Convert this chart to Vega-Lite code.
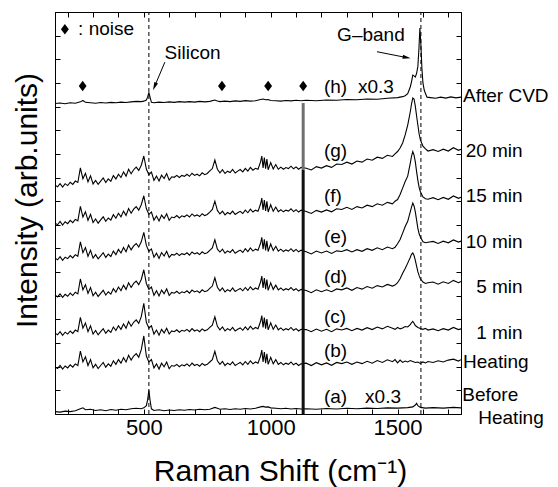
{
"$schema": "https://vega.github.io/schema/vega-lite/v6.json",
"width": 406, "height": 402,
"autosize": "none",
"padding": {"left": 55, "top": 12, "right": 97, "bottom": 73},
"config": {"font": "Liberation Sans", "view": {"stroke": "black", "strokeWidth": 1},
 "axis": {"domainColor": "black", "tickColor": "black", "labelColor": "black", "titleColor": "black", "grid": false, "titleFontWeight": "normal", "labelFont": "Liberation Sans", "titleFont": "Liberation Sans"}},
"datasets": {
"spectra": [
{"t":"g","x":150,"y":9.68},{"t":"g","x":160,"y":9.61},{"t":"g","x":170,"y":9.74},{"t":"g","x":180,"y":9.60},{"t":"g","x":190,"y":9.74},{"t":"g","x":200,"y":9.66},{"t":"g","x":210,"y":9.80},{"t":"g","x":220,"y":9.71},{"t":"g","x":230,"y":9.85},{"t":"g","x":240,"y":9.79},{"t":"g","x":250,"y":10.41},{"t":"g","x":260,"y":9.95},{"t":"g","x":270,"y":10.18},{"t":"g","x":280,"y":9.82},{"t":"g","x":290,"y":10.07},{"t":"g","x":300,"y":9.73},{"t":"g","x":310,"y":9.88},{"t":"g","x":320,"y":9.71},{"t":"g","x":330,"y":9.85},{"t":"g","x":340,"y":9.98},{"t":"g","x":350,"y":9.79},{"t":"g","x":360,"y":9.94},{"t":"g","x":370,"y":9.84},{"t":"g","x":380,"y":10.08},{"t":"g","x":390,"y":9.94},{"t":"g","x":400,"y":10.14},{"t":"g","x":410,"y":10.00},{"t":"g","x":420,"y":10.24},{"t":"g","x":430,"y":10.06},{"t":"g","x":440,"y":10.35},{"t":"g","x":450,"y":10.16},{"t":"g","x":460,"y":10.33},{"t":"g","x":470,"y":10.44},{"t":"g","x":480,"y":10.30},{"t":"g","x":490,"y":10.52},{"t":"g","x":500,"y":10.91},{"t":"g","x":510,"y":10.36},{"t":"g","x":520,"y":10.12},{"t":"g","x":530,"y":10.23},{"t":"g","x":540,"y":9.88},{"t":"g","x":550,"y":10.06},{"t":"g","x":560,"y":9.85},{"t":"g","x":570,"y":10.10},{"t":"g","x":580,"y":9.96},{"t":"g","x":590,"y":10.17},{"t":"g","x":600,"y":9.89},{"t":"g","x":610,"y":10.03},{"t":"g","x":620,"y":10.01},{"t":"g","x":630,"y":10.09},{"t":"g","x":640,"y":10.00},{"t":"g","x":650,"y":10.09},{"t":"g","x":660,"y":10.05},{"t":"g","x":670,"y":10.14},{"t":"g","x":680,"y":10.05},{"t":"g","x":690,"y":10.18},{"t":"g","x":700,"y":10.09},{"t":"g","x":710,"y":10.14},{"t":"g","x":720,"y":10.07},{"t":"g","x":730,"y":10.20},{"t":"g","x":740,"y":10.12},{"t":"g","x":750,"y":10.17},{"t":"g","x":760,"y":10.28},{"t":"g","x":770,"y":10.38},{"t":"g","x":780,"y":10.74},{"t":"g","x":790,"y":10.35},{"t":"g","x":800,"y":10.20},{"t":"g","x":810,"y":10.33},{"t":"g","x":820,"y":10.17},{"t":"g","x":830,"y":10.27},{"t":"g","x":840,"y":10.21},{"t":"g","x":850,"y":10.34},{"t":"g","x":860,"y":10.19},{"t":"g","x":870,"y":10.27},{"t":"g","x":880,"y":10.34},{"t":"g","x":890,"y":10.24},{"t":"g","x":900,"y":10.39},{"t":"g","x":910,"y":10.27},{"t":"g","x":920,"y":10.43},{"t":"g","x":930,"y":10.31},{"t":"g","x":940,"y":10.39},{"t":"g","x":950,"y":10.35},{"t":"g","x":960,"y":10.66},{"t":"g","x":965,"y":10.91},{"t":"g","x":970,"y":10.41},{"t":"g","x":975,"y":10.84},{"t":"g","x":980,"y":10.37},{"t":"g","x":985,"y":10.78},{"t":"g","x":990,"y":10.33},{"t":"g","x":1000,"y":10.63},{"t":"g","x":1010,"y":10.36},{"t":"g","x":1020,"y":10.55},{"t":"g","x":1030,"y":10.35},{"t":"g","x":1040,"y":10.44},{"t":"g","x":1050,"y":10.35},{"t":"g","x":1060,"y":10.42},{"t":"g","x":1070,"y":10.38},{"t":"g","x":1080,"y":10.48},{"t":"g","x":1090,"y":10.37},{"t":"g","x":1100,"y":10.45},{"t":"g","x":1110,"y":10.35},{"t":"g","x":1120,"y":10.43},{"t":"g","x":1140,"y":10.39},{"t":"g","x":1160,"y":10.32},{"t":"g","x":1180,"y":10.46},{"t":"g","x":1200,"y":10.40},{"t":"g","x":1220,"y":10.50},{"t":"g","x":1240,"y":10.43},{"t":"g","x":1260,"y":10.57},{"t":"g","x":1280,"y":10.55},{"t":"g","x":1300,"y":10.65},{"t":"g","x":1320,"y":10.57},{"t":"g","x":1340,"y":10.70},{"t":"g","x":1360,"y":10.65},{"t":"g","x":1380,"y":10.78},{"t":"g","x":1400,"y":10.73},{"t":"g","x":1420,"y":10.86},{"t":"g","x":1440,"y":10.81},{"t":"g","x":1460,"y":10.94},{"t":"g","x":1480,"y":10.89},{"t":"g","x":1490,"y":11.00},{"t":"g","x":1500,"y":11.10},{"t":"g","x":1510,"y":11.25},{"t":"g","x":1520,"y":11.46},{"t":"g","x":1530,"y":11.80},{"t":"g","x":1540,"y":12.22},{"t":"g","x":1550,"y":12.77},{"t":"g","x":1555,"y":13.11},{"t":"g","x":1560,"y":13.36},{"t":"g","x":1565,"y":13.32},{"t":"g","x":1570,"y":13.02},{"t":"g","x":1575,"y":12.60},{"t":"g","x":1580,"y":12.22},{"t":"g","x":1585,"y":11.84},{"t":"g","x":1590,"y":11.59},{"t":"g","x":1600,"y":11.33},{"t":"g","x":1610,"y":11.21},{"t":"g","x":1620,"y":11.12},{"t":"g","x":1640,"y":11.18},{"t":"g","x":1660,"y":11.10},{"t":"g","x":1680,"y":11.20},{"t":"g","x":1700,"y":11.12},{"t":"g","x":1720,"y":11.26},{"t":"g","x":1740,"y":11.15},{"t":"g","x":1750,"y":11.20},
{"t":"f","x":150,"y":8.08},{"t":"f","x":160,"y":8.00},{"t":"f","x":170,"y":8.14},{"t":"f","x":180,"y":7.99},{"t":"f","x":190,"y":8.13},{"t":"f","x":200,"y":8.05},{"t":"f","x":210,"y":8.19},{"t":"f","x":220,"y":8.09},{"t":"f","x":230,"y":8.23},{"t":"f","x":240,"y":8.17},{"t":"f","x":250,"y":8.78},{"t":"f","x":260,"y":8.33},{"t":"f","x":270,"y":8.55},{"t":"f","x":280,"y":8.19},{"t":"f","x":290,"y":8.44},{"t":"f","x":300,"y":8.10},{"t":"f","x":310,"y":8.25},{"t":"f","x":320,"y":8.07},{"t":"f","x":330,"y":8.21},{"t":"f","x":340,"y":8.34},{"t":"f","x":350,"y":8.15},{"t":"f","x":360,"y":8.29},{"t":"f","x":370,"y":8.20},{"t":"f","x":380,"y":8.43},{"t":"f","x":390,"y":8.28},{"t":"f","x":400,"y":8.49},{"t":"f","x":410,"y":8.34},{"t":"f","x":420,"y":8.58},{"t":"f","x":430,"y":8.40},{"t":"f","x":440,"y":8.69},{"t":"f","x":450,"y":8.49},{"t":"f","x":460,"y":8.66},{"t":"f","x":470,"y":8.77},{"t":"f","x":480,"y":8.62},{"t":"f","x":490,"y":8.85},{"t":"f","x":500,"y":9.23},{"t":"f","x":510,"y":8.69},{"t":"f","x":520,"y":8.44},{"t":"f","x":530,"y":8.54},{"t":"f","x":540,"y":8.20},{"t":"f","x":550,"y":8.37},{"t":"f","x":560,"y":8.16},{"t":"f","x":570,"y":8.41},{"t":"f","x":580,"y":8.27},{"t":"f","x":590,"y":8.47},{"t":"f","x":600,"y":8.19},{"t":"f","x":610,"y":8.33},{"t":"f","x":620,"y":8.30},{"t":"f","x":630,"y":8.39},{"t":"f","x":640,"y":8.29},{"t":"f","x":650,"y":8.38},{"t":"f","x":660,"y":8.34},{"t":"f","x":670,"y":8.42},{"t":"f","x":680,"y":8.33},{"t":"f","x":690,"y":8.46},{"t":"f","x":700,"y":8.37},{"t":"f","x":710,"y":8.42},{"t":"f","x":720,"y":8.35},{"t":"f","x":730,"y":8.47},{"t":"f","x":740,"y":8.39},{"t":"f","x":750,"y":8.44},{"t":"f","x":760,"y":8.54},{"t":"f","x":770,"y":8.65},{"t":"f","x":780,"y":9.00},{"t":"f","x":790,"y":8.61},{"t":"f","x":800,"y":8.46},{"t":"f","x":810,"y":8.58},{"t":"f","x":820,"y":8.42},{"t":"f","x":830,"y":8.52},{"t":"f","x":840,"y":8.46},{"t":"f","x":850,"y":8.58},{"t":"f","x":860,"y":8.44},{"t":"f","x":870,"y":8.51},{"t":"f","x":880,"y":8.57},{"t":"f","x":890,"y":8.48},{"t":"f","x":900,"y":8.62},{"t":"f","x":910,"y":8.51},{"t":"f","x":920,"y":8.66},{"t":"f","x":930,"y":8.54},{"t":"f","x":940,"y":8.62},{"t":"f","x":950,"y":8.57},{"t":"f","x":960,"y":8.88},{"t":"f","x":965,"y":9.13},{"t":"f","x":970,"y":8.63},{"t":"f","x":975,"y":9.05},{"t":"f","x":980,"y":8.59},{"t":"f","x":985,"y":8.99},{"t":"f","x":990,"y":8.54},{"t":"f","x":1000,"y":8.85},{"t":"f","x":1010,"y":8.57},{"t":"f","x":1020,"y":8.75},{"t":"f","x":1030,"y":8.56},{"t":"f","x":1040,"y":8.64},{"t":"f","x":1050,"y":8.55},{"t":"f","x":1060,"y":8.62},{"t":"f","x":1070,"y":8.58},{"t":"f","x":1080,"y":8.68},{"t":"f","x":1090,"y":8.56},{"t":"f","x":1100,"y":8.64},{"t":"f","x":1110,"y":8.54},{"t":"f","x":1120,"y":8.62},{"t":"f","x":1140,"y":8.56},{"t":"f","x":1160,"y":8.48},{"t":"f","x":1180,"y":8.61},{"t":"f","x":1200,"y":8.54},{"t":"f","x":1220,"y":8.63},{"t":"f","x":1240,"y":8.55},{"t":"f","x":1260,"y":8.68},{"t":"f","x":1280,"y":8.65},{"t":"f","x":1300,"y":8.74},{"t":"f","x":1320,"y":8.65},{"t":"f","x":1340,"y":8.77},{"t":"f","x":1360,"y":8.71},{"t":"f","x":1380,"y":8.83},{"t":"f","x":1400,"y":8.77},{"t":"f","x":1420,"y":8.89},{"t":"f","x":1440,"y":8.83},{"t":"f","x":1460,"y":8.95},{"t":"f","x":1480,"y":8.89},{"t":"f","x":1490,"y":9.00},{"t":"f","x":1500,"y":9.07},{"t":"f","x":1510,"y":9.28},{"t":"f","x":1520,"y":9.55},{"t":"f","x":1530,"y":9.83},{"t":"f","x":1540,"y":10.06},{"t":"f","x":1550,"y":10.60},{"t":"f","x":1555,"y":10.90},{"t":"f","x":1560,"y":11.10},{"t":"f","x":1565,"y":10.95},{"t":"f","x":1570,"y":10.66},{"t":"f","x":1575,"y":10.25},{"t":"f","x":1580,"y":9.88},{"t":"f","x":1585,"y":9.58},{"t":"f","x":1590,"y":9.40},{"t":"f","x":1600,"y":9.18},{"t":"f","x":1610,"y":9.10},{"t":"f","x":1620,"y":9.08},{"t":"f","x":1640,"y":9.15},{"t":"f","x":1660,"y":9.06},{"t":"f","x":1680,"y":9.16},{"t":"f","x":1700,"y":9.08},{"t":"f","x":1720,"y":9.22},{"t":"f","x":1740,"y":9.12},{"t":"f","x":1750,"y":9.17},
{"t":"e","x":150,"y":6.60},{"t":"e","x":160,"y":6.52},{"t":"e","x":170,"y":6.65},{"t":"e","x":180,"y":6.50},{"t":"e","x":190,"y":6.63},{"t":"e","x":200,"y":6.57},{"t":"e","x":210,"y":6.70},{"t":"e","x":220,"y":6.60},{"t":"e","x":230,"y":6.74},{"t":"e","x":240,"y":6.67},{"t":"e","x":250,"y":7.28},{"t":"e","x":260,"y":6.82},{"t":"e","x":270,"y":7.04},{"t":"e","x":280,"y":6.67},{"t":"e","x":290,"y":6.92},{"t":"e","x":300,"y":6.59},{"t":"e","x":310,"y":6.74},{"t":"e","x":320,"y":6.56},{"t":"e","x":330,"y":6.69},{"t":"e","x":340,"y":6.82},{"t":"e","x":350,"y":6.62},{"t":"e","x":360,"y":6.76},{"t":"e","x":370,"y":6.66},{"t":"e","x":380,"y":6.89},{"t":"e","x":390,"y":6.74},{"t":"e","x":400,"y":6.96},{"t":"e","x":410,"y":6.81},{"t":"e","x":420,"y":7.04},{"t":"e","x":430,"y":6.86},{"t":"e","x":440,"y":7.14},{"t":"e","x":450,"y":6.94},{"t":"e","x":460,"y":7.11},{"t":"e","x":470,"y":7.21},{"t":"e","x":480,"y":7.06},{"t":"e","x":490,"y":7.28},{"t":"e","x":500,"y":7.68},{"t":"e","x":510,"y":7.13},{"t":"e","x":520,"y":6.88},{"t":"e","x":530,"y":6.98},{"t":"e","x":540,"y":6.63},{"t":"e","x":550,"y":6.80},{"t":"e","x":560,"y":6.58},{"t":"e","x":570,"y":6.83},{"t":"e","x":580,"y":6.68},{"t":"e","x":590,"y":6.88},{"t":"e","x":600,"y":6.62},{"t":"e","x":610,"y":6.75},{"t":"e","x":620,"y":6.72},{"t":"e","x":630,"y":6.80},{"t":"e","x":640,"y":6.70},{"t":"e","x":650,"y":6.78},{"t":"e","x":660,"y":6.74},{"t":"e","x":670,"y":6.82},{"t":"e","x":680,"y":6.72},{"t":"e","x":690,"y":6.85},{"t":"e","x":700,"y":6.77},{"t":"e","x":710,"y":6.82},{"t":"e","x":720,"y":6.74},{"t":"e","x":730,"y":6.86},{"t":"e","x":740,"y":6.78},{"t":"e","x":750,"y":6.82},{"t":"e","x":760,"y":6.92},{"t":"e","x":770,"y":7.02},{"t":"e","x":780,"y":7.37},{"t":"e","x":790,"y":6.97},{"t":"e","x":800,"y":6.85},{"t":"e","x":810,"y":6.97},{"t":"e","x":820,"y":6.80},{"t":"e","x":830,"y":6.90},{"t":"e","x":840,"y":6.83},{"t":"e","x":850,"y":6.95},{"t":"e","x":860,"y":6.80},{"t":"e","x":870,"y":6.87},{"t":"e","x":880,"y":6.93},{"t":"e","x":890,"y":6.83},{"t":"e","x":900,"y":6.99},{"t":"e","x":910,"y":6.87},{"t":"e","x":920,"y":7.02},{"t":"e","x":930,"y":6.89},{"t":"e","x":940,"y":6.97},{"t":"e","x":950,"y":6.92},{"t":"e","x":960,"y":7.22},{"t":"e","x":965,"y":7.47},{"t":"e","x":970,"y":6.97},{"t":"e","x":975,"y":7.39},{"t":"e","x":980,"y":6.92},{"t":"e","x":985,"y":7.32},{"t":"e","x":990,"y":6.87},{"t":"e","x":1000,"y":7.19},{"t":"e","x":1010,"y":6.91},{"t":"e","x":1020,"y":7.09},{"t":"e","x":1030,"y":6.89},{"t":"e","x":1040,"y":6.97},{"t":"e","x":1050,"y":6.87},{"t":"e","x":1060,"y":6.94},{"t":"e","x":1070,"y":6.89},{"t":"e","x":1080,"y":6.99},{"t":"e","x":1090,"y":6.87},{"t":"e","x":1100,"y":6.96},{"t":"e","x":1110,"y":6.86},{"t":"e","x":1120,"y":6.93},{"t":"e","x":1140,"y":6.86},{"t":"e","x":1160,"y":6.77},{"t":"e","x":1180,"y":6.89},{"t":"e","x":1200,"y":6.81},{"t":"e","x":1220,"y":6.89},{"t":"e","x":1240,"y":6.79},{"t":"e","x":1260,"y":6.90},{"t":"e","x":1280,"y":6.87},{"t":"e","x":1300,"y":6.95},{"t":"e","x":1320,"y":6.85},{"t":"e","x":1340,"y":6.95},{"t":"e","x":1360,"y":6.88},{"t":"e","x":1380,"y":6.99},{"t":"e","x":1400,"y":6.92},{"t":"e","x":1420,"y":7.03},{"t":"e","x":1440,"y":6.95},{"t":"e","x":1460,"y":7.06},{"t":"e","x":1480,"y":6.99},{"t":"e","x":1490,"y":7.05},{"t":"e","x":1500,"y":7.20},{"t":"e","x":1510,"y":7.38},{"t":"e","x":1520,"y":7.65},{"t":"e","x":1530,"y":7.93},{"t":"e","x":1540,"y":8.15},{"t":"e","x":1550,"y":8.55},{"t":"e","x":1555,"y":8.75},{"t":"e","x":1560,"y":8.92},{"t":"e","x":1565,"y":8.80},{"t":"e","x":1570,"y":8.55},{"t":"e","x":1575,"y":8.20},{"t":"e","x":1580,"y":7.85},{"t":"e","x":1585,"y":7.62},{"t":"e","x":1590,"y":7.48},{"t":"e","x":1600,"y":7.28},{"t":"e","x":1610,"y":7.24},{"t":"e","x":1620,"y":7.26},{"t":"e","x":1640,"y":7.30},{"t":"e","x":1660,"y":7.21},{"t":"e","x":1680,"y":7.31},{"t":"e","x":1700,"y":7.24},{"t":"e","x":1720,"y":7.36},{"t":"e","x":1740,"y":7.27},{"t":"e","x":1750,"y":7.31},
{"t":"d","x":150,"y":5.03},{"t":"d","x":160,"y":4.95},{"t":"d","x":170,"y":5.08},{"t":"d","x":180,"y":4.93},{"t":"d","x":190,"y":5.06},{"t":"d","x":200,"y":4.98},{"t":"d","x":210,"y":5.11},{"t":"d","x":220,"y":5.01},{"t":"d","x":230,"y":5.15},{"t":"d","x":240,"y":5.08},{"t":"d","x":250,"y":5.71},{"t":"d","x":260,"y":5.25},{"t":"d","x":270,"y":5.47},{"t":"d","x":280,"y":5.10},{"t":"d","x":290,"y":5.35},{"t":"d","x":300,"y":5.00},{"t":"d","x":310,"y":5.15},{"t":"d","x":320,"y":4.97},{"t":"d","x":330,"y":5.10},{"t":"d","x":340,"y":5.23},{"t":"d","x":350,"y":5.03},{"t":"d","x":360,"y":5.17},{"t":"d","x":370,"y":5.07},{"t":"d","x":380,"y":5.30},{"t":"d","x":390,"y":5.15},{"t":"d","x":400,"y":5.37},{"t":"d","x":410,"y":5.22},{"t":"d","x":420,"y":5.45},{"t":"d","x":430,"y":5.27},{"t":"d","x":440,"y":5.55},{"t":"d","x":450,"y":5.35},{"t":"d","x":460,"y":5.52},{"t":"d","x":470,"y":5.62},{"t":"d","x":480,"y":5.47},{"t":"d","x":490,"y":5.69},{"t":"d","x":500,"y":6.10},{"t":"d","x":510,"y":5.52},{"t":"d","x":520,"y":5.27},{"t":"d","x":530,"y":5.37},{"t":"d","x":540,"y":5.02},{"t":"d","x":550,"y":5.21},{"t":"d","x":560,"y":4.99},{"t":"d","x":570,"y":5.24},{"t":"d","x":580,"y":5.09},{"t":"d","x":590,"y":5.29},{"t":"d","x":600,"y":5.01},{"t":"d","x":610,"y":5.14},{"t":"d","x":620,"y":5.11},{"t":"d","x":630,"y":5.19},{"t":"d","x":640,"y":5.09},{"t":"d","x":650,"y":5.17},{"t":"d","x":660,"y":5.13},{"t":"d","x":670,"y":5.21},{"t":"d","x":680,"y":5.11},{"t":"d","x":690,"y":5.24},{"t":"d","x":700,"y":5.16},{"t":"d","x":710,"y":5.21},{"t":"d","x":720,"y":5.13},{"t":"d","x":730,"y":5.25},{"t":"d","x":740,"y":5.17},{"t":"d","x":750,"y":5.21},{"t":"d","x":760,"y":5.31},{"t":"d","x":770,"y":5.41},{"t":"d","x":780,"y":5.76},{"t":"d","x":790,"y":5.36},{"t":"d","x":800,"y":5.21},{"t":"d","x":810,"y":5.33},{"t":"d","x":820,"y":5.16},{"t":"d","x":830,"y":5.26},{"t":"d","x":840,"y":5.19},{"t":"d","x":850,"y":5.33},{"t":"d","x":860,"y":5.18},{"t":"d","x":870,"y":5.25},{"t":"d","x":880,"y":5.31},{"t":"d","x":890,"y":5.21},{"t":"d","x":900,"y":5.35},{"t":"d","x":910,"y":5.23},{"t":"d","x":920,"y":5.38},{"t":"d","x":930,"y":5.25},{"t":"d","x":940,"y":5.33},{"t":"d","x":950,"y":5.28},{"t":"d","x":960,"y":5.58},{"t":"d","x":965,"y":5.83},{"t":"d","x":970,"y":5.33},{"t":"d","x":975,"y":5.75},{"t":"d","x":980,"y":5.28},{"t":"d","x":985,"y":5.68},{"t":"d","x":990,"y":5.23},{"t":"d","x":1000,"y":5.55},{"t":"d","x":1010,"y":5.27},{"t":"d","x":1020,"y":5.45},{"t":"d","x":1030,"y":5.25},{"t":"d","x":1040,"y":5.33},{"t":"d","x":1050,"y":5.23},{"t":"d","x":1060,"y":5.30},{"t":"d","x":1070,"y":5.25},{"t":"d","x":1080,"y":5.35},{"t":"d","x":1090,"y":5.23},{"t":"d","x":1100,"y":5.30},{"t":"d","x":1110,"y":5.20},{"t":"d","x":1120,"y":5.27},{"t":"d","x":1140,"y":5.22},{"t":"d","x":1160,"y":5.13},{"t":"d","x":1180,"y":5.25},{"t":"d","x":1200,"y":5.17},{"t":"d","x":1220,"y":5.25},{"t":"d","x":1240,"y":5.17},{"t":"d","x":1260,"y":5.29},{"t":"d","x":1280,"y":5.25},{"t":"d","x":1300,"y":5.33},{"t":"d","x":1320,"y":5.23},{"t":"d","x":1340,"y":5.35},{"t":"d","x":1360,"y":5.28},{"t":"d","x":1380,"y":5.39},{"t":"d","x":1400,"y":5.32},{"t":"d","x":1420,"y":5.43},{"t":"d","x":1440,"y":5.37},{"t":"d","x":1460,"y":5.48},{"t":"d","x":1480,"y":5.41},{"t":"d","x":1490,"y":5.45},{"t":"d","x":1500,"y":5.55},{"t":"d","x":1510,"y":5.72},{"t":"d","x":1520,"y":5.95},{"t":"d","x":1530,"y":6.15},{"t":"d","x":1540,"y":6.38},{"t":"d","x":1550,"y":6.62},{"t":"d","x":1555,"y":6.75},{"t":"d","x":1560,"y":6.81},{"t":"d","x":1565,"y":6.70},{"t":"d","x":1570,"y":6.50},{"t":"d","x":1575,"y":6.25},{"t":"d","x":1580,"y":6.02},{"t":"d","x":1585,"y":5.85},{"t":"d","x":1590,"y":5.72},{"t":"d","x":1600,"y":5.58},{"t":"d","x":1610,"y":5.52},{"t":"d","x":1620,"y":5.55},{"t":"d","x":1640,"y":5.58},{"t":"d","x":1660,"y":5.49},{"t":"d","x":1680,"y":5.59},{"t":"d","x":1700,"y":5.52},{"t":"d","x":1720,"y":5.65},{"t":"d","x":1740,"y":5.55},{"t":"d","x":1750,"y":5.60},
{"t":"c","x":150,"y":3.42},{"t":"c","x":160,"y":3.35},{"t":"c","x":170,"y":3.48},{"t":"c","x":180,"y":3.33},{"t":"c","x":190,"y":3.46},{"t":"c","x":200,"y":3.38},{"t":"c","x":210,"y":3.51},{"t":"c","x":220,"y":3.41},{"t":"c","x":230,"y":3.55},{"t":"c","x":240,"y":3.48},{"t":"c","x":250,"y":4.09},{"t":"c","x":260,"y":3.63},{"t":"c","x":270,"y":3.85},{"t":"c","x":280,"y":3.48},{"t":"c","x":290,"y":3.73},{"t":"c","x":300,"y":3.38},{"t":"c","x":310,"y":3.53},{"t":"c","x":320,"y":3.35},{"t":"c","x":330,"y":3.48},{"t":"c","x":340,"y":3.61},{"t":"c","x":350,"y":3.41},{"t":"c","x":360,"y":3.55},{"t":"c","x":370,"y":3.45},{"t":"c","x":380,"y":3.68},{"t":"c","x":390,"y":3.53},{"t":"c","x":400,"y":3.73},{"t":"c","x":410,"y":3.58},{"t":"c","x":420,"y":3.81},{"t":"c","x":430,"y":3.63},{"t":"c","x":440,"y":3.91},{"t":"c","x":450,"y":3.71},{"t":"c","x":460,"y":3.88},{"t":"c","x":470,"y":3.98},{"t":"c","x":480,"y":3.83},{"t":"c","x":490,"y":4.12},{"t":"c","x":500,"y":4.68},{"t":"c","x":510,"y":3.88},{"t":"c","x":520,"y":3.63},{"t":"c","x":530,"y":3.73},{"t":"c","x":540,"y":3.38},{"t":"c","x":550,"y":3.55},{"t":"c","x":560,"y":3.33},{"t":"c","x":570,"y":3.58},{"t":"c","x":580,"y":3.43},{"t":"c","x":590,"y":3.63},{"t":"c","x":600,"y":3.38},{"t":"c","x":610,"y":3.51},{"t":"c","x":620,"y":3.48},{"t":"c","x":630,"y":3.56},{"t":"c","x":640,"y":3.46},{"t":"c","x":650,"y":3.54},{"t":"c","x":660,"y":3.50},{"t":"c","x":670,"y":3.58},{"t":"c","x":680,"y":3.48},{"t":"c","x":690,"y":3.61},{"t":"c","x":700,"y":3.51},{"t":"c","x":710,"y":3.56},{"t":"c","x":720,"y":3.48},{"t":"c","x":730,"y":3.60},{"t":"c","x":740,"y":3.52},{"t":"c","x":750,"y":3.56},{"t":"c","x":760,"y":3.66},{"t":"c","x":770,"y":3.76},{"t":"c","x":780,"y":4.11},{"t":"c","x":790,"y":3.71},{"t":"c","x":800,"y":3.56},{"t":"c","x":810,"y":3.68},{"t":"c","x":820,"y":3.51},{"t":"c","x":830,"y":3.61},{"t":"c","x":840,"y":3.54},{"t":"c","x":850,"y":3.66},{"t":"c","x":860,"y":3.51},{"t":"c","x":870,"y":3.58},{"t":"c","x":880,"y":3.64},{"t":"c","x":890,"y":3.54},{"t":"c","x":900,"y":3.68},{"t":"c","x":910,"y":3.56},{"t":"c","x":920,"y":3.71},{"t":"c","x":930,"y":3.58},{"t":"c","x":940,"y":3.66},{"t":"c","x":950,"y":3.61},{"t":"c","x":960,"y":3.91},{"t":"c","x":965,"y":4.16},{"t":"c","x":970,"y":3.66},{"t":"c","x":975,"y":4.08},{"t":"c","x":980,"y":3.61},{"t":"c","x":985,"y":4.01},{"t":"c","x":990,"y":3.56},{"t":"c","x":1000,"y":3.86},{"t":"c","x":1010,"y":3.58},{"t":"c","x":1020,"y":3.76},{"t":"c","x":1030,"y":3.56},{"t":"c","x":1040,"y":3.64},{"t":"c","x":1050,"y":3.54},{"t":"c","x":1060,"y":3.61},{"t":"c","x":1070,"y":3.56},{"t":"c","x":1080,"y":3.66},{"t":"c","x":1090,"y":3.54},{"t":"c","x":1100,"y":3.61},{"t":"c","x":1110,"y":3.51},{"t":"c","x":1120,"y":3.58},{"t":"c","x":1140,"y":3.57},{"t":"c","x":1160,"y":3.48},{"t":"c","x":1180,"y":3.59},{"t":"c","x":1200,"y":3.50},{"t":"c","x":1220,"y":3.58},{"t":"c","x":1240,"y":3.48},{"t":"c","x":1260,"y":3.60},{"t":"c","x":1280,"y":3.55},{"t":"c","x":1300,"y":3.62},{"t":"c","x":1320,"y":3.52},{"t":"c","x":1340,"y":3.62},{"t":"c","x":1360,"y":3.55},{"t":"c","x":1380,"y":3.65},{"t":"c","x":1400,"y":3.57},{"t":"c","x":1420,"y":3.68},{"t":"c","x":1440,"y":3.60},{"t":"c","x":1460,"y":3.71},{"t":"c","x":1480,"y":3.63},{"t":"c","x":1490,"y":3.58},{"t":"c","x":1500,"y":3.66},{"t":"c","x":1510,"y":3.60},{"t":"c","x":1520,"y":3.64},{"t":"c","x":1530,"y":3.70},{"t":"c","x":1540,"y":3.68},{"t":"c","x":1550,"y":3.78},{"t":"c","x":1555,"y":3.86},{"t":"c","x":1560,"y":3.92},{"t":"c","x":1565,"y":3.84},{"t":"c","x":1570,"y":3.74},{"t":"c","x":1575,"y":3.70},{"t":"c","x":1580,"y":3.66},{"t":"c","x":1590,"y":3.62},{"t":"c","x":1600,"y":3.58},{"t":"c","x":1610,"y":3.62},{"t":"c","x":1620,"y":3.55},{"t":"c","x":1640,"y":3.60},{"t":"c","x":1660,"y":3.52},{"t":"c","x":1680,"y":3.61},{"t":"c","x":1700,"y":3.55},{"t":"c","x":1720,"y":3.66},{"t":"c","x":1740,"y":3.57},{"t":"c","x":1750,"y":3.60},
{"t":"b","x":150,"y":2.00},{"t":"b","x":160,"y":1.92},{"t":"b","x":170,"y":2.05},{"t":"b","x":180,"y":1.90},{"t":"b","x":190,"y":2.03},{"t":"b","x":200,"y":1.95},{"t":"b","x":210,"y":2.08},{"t":"b","x":220,"y":1.98},{"t":"b","x":230,"y":2.12},{"t":"b","x":240,"y":2.05},{"t":"b","x":250,"y":2.66},{"t":"b","x":260,"y":2.20},{"t":"b","x":270,"y":2.42},{"t":"b","x":280,"y":2.05},{"t":"b","x":290,"y":2.30},{"t":"b","x":300,"y":1.95},{"t":"b","x":310,"y":2.10},{"t":"b","x":320,"y":1.92},{"t":"b","x":330,"y":2.05},{"t":"b","x":340,"y":2.18},{"t":"b","x":350,"y":1.98},{"t":"b","x":360,"y":2.12},{"t":"b","x":370,"y":2.02},{"t":"b","x":380,"y":2.25},{"t":"b","x":390,"y":2.10},{"t":"b","x":400,"y":2.30},{"t":"b","x":410,"y":2.15},{"t":"b","x":420,"y":2.38},{"t":"b","x":430,"y":2.20},{"t":"b","x":440,"y":2.48},{"t":"b","x":450,"y":2.28},{"t":"b","x":460,"y":2.45},{"t":"b","x":470,"y":2.55},{"t":"b","x":480,"y":2.40},{"t":"b","x":490,"y":2.72},{"t":"b","x":500,"y":3.30},{"t":"b","x":510,"y":2.45},{"t":"b","x":520,"y":2.20},{"t":"b","x":530,"y":2.30},{"t":"b","x":540,"y":1.95},{"t":"b","x":550,"y":2.12},{"t":"b","x":560,"y":1.90},{"t":"b","x":570,"y":2.15},{"t":"b","x":580,"y":2.00},{"t":"b","x":590,"y":2.20},{"t":"b","x":600,"y":1.92},{"t":"b","x":610,"y":2.05},{"t":"b","x":620,"y":2.02},{"t":"b","x":630,"y":2.10},{"t":"b","x":640,"y":2.00},{"t":"b","x":650,"y":2.08},{"t":"b","x":660,"y":2.04},{"t":"b","x":670,"y":2.12},{"t":"b","x":680,"y":2.02},{"t":"b","x":690,"y":2.15},{"t":"b","x":700,"y":2.05},{"t":"b","x":710,"y":2.10},{"t":"b","x":720,"y":2.02},{"t":"b","x":730,"y":2.14},{"t":"b","x":740,"y":2.06},{"t":"b","x":750,"y":2.10},{"t":"b","x":760,"y":2.20},{"t":"b","x":770,"y":2.30},{"t":"b","x":780,"y":2.65},{"t":"b","x":790,"y":2.25},{"t":"b","x":800,"y":2.10},{"t":"b","x":810,"y":2.22},{"t":"b","x":820,"y":2.05},{"t":"b","x":830,"y":2.15},{"t":"b","x":840,"y":2.08},{"t":"b","x":850,"y":2.20},{"t":"b","x":860,"y":2.05},{"t":"b","x":870,"y":2.12},{"t":"b","x":880,"y":2.18},{"t":"b","x":890,"y":2.08},{"t":"b","x":900,"y":2.22},{"t":"b","x":910,"y":2.10},{"t":"b","x":920,"y":2.25},{"t":"b","x":930,"y":2.12},{"t":"b","x":940,"y":2.20},{"t":"b","x":950,"y":2.15},{"t":"b","x":960,"y":2.45},{"t":"b","x":965,"y":2.70},{"t":"b","x":970,"y":2.20},{"t":"b","x":975,"y":2.62},{"t":"b","x":980,"y":2.15},{"t":"b","x":985,"y":2.55},{"t":"b","x":990,"y":2.10},{"t":"b","x":1000,"y":2.40},{"t":"b","x":1010,"y":2.12},{"t":"b","x":1020,"y":2.30},{"t":"b","x":1030,"y":2.10},{"t":"b","x":1040,"y":2.18},{"t":"b","x":1050,"y":2.08},{"t":"b","x":1060,"y":2.15},{"t":"b","x":1070,"y":2.10},{"t":"b","x":1080,"y":2.20},{"t":"b","x":1090,"y":2.08},{"t":"b","x":1100,"y":2.15},{"t":"b","x":1110,"y":2.05},{"t":"b","x":1120,"y":2.12},{"t":"b","x":1140,"y":2.15},{"t":"b","x":1160,"y":2.05},{"t":"b","x":1180,"y":2.17},{"t":"b","x":1200,"y":2.08},{"t":"b","x":1220,"y":2.16},{"t":"b","x":1240,"y":2.06},{"t":"b","x":1260,"y":2.18},{"t":"b","x":1280,"y":2.13},{"t":"b","x":1300,"y":2.20},{"t":"b","x":1320,"y":2.10},{"t":"b","x":1340,"y":2.20},{"t":"b","x":1360,"y":2.13},{"t":"b","x":1380,"y":2.23},{"t":"b","x":1400,"y":2.15},{"t":"b","x":1420,"y":2.26},{"t":"b","x":1440,"y":2.18},{"t":"b","x":1460,"y":2.29},{"t":"b","x":1480,"y":2.21},{"t":"b","x":1490,"y":2.30},{"t":"b","x":1500,"y":2.16},{"t":"b","x":1510,"y":2.28},{"t":"b","x":1520,"y":2.18},{"t":"b","x":1530,"y":2.24},{"t":"b","x":1540,"y":2.20},{"t":"b","x":1550,"y":2.26},{"t":"b","x":1560,"y":2.22},{"t":"b","x":1570,"y":2.18},{"t":"b","x":1580,"y":2.20},{"t":"b","x":1590,"y":2.14},{"t":"b","x":1600,"y":2.20},{"t":"b","x":1610,"y":2.16},{"t":"b","x":1620,"y":2.22},{"t":"b","x":1640,"y":2.18},{"t":"b","x":1660,"y":2.25},{"t":"b","x":1680,"y":2.20},{"t":"b","x":1700,"y":2.28},{"t":"b","x":1720,"y":2.32},{"t":"b","x":1740,"y":2.24},{"t":"b","x":1750,"y":2.30},
{"t":"a","x":150,"y":0.10},{"t":"a","x":170,"y":0.08},{"t":"a","x":190,"y":0.12},{"t":"a","x":210,"y":0.10},{"t":"a","x":230,"y":0.14},{"t":"a","x":250,"y":0.22},{"t":"a","x":260,"y":0.26},{"t":"a","x":270,"y":0.18},{"t":"a","x":290,"y":0.20},{"t":"a","x":310,"y":0.15},{"t":"a","x":330,"y":0.18},{"t":"a","x":350,"y":0.14},{"t":"a","x":370,"y":0.19},{"t":"a","x":390,"y":0.16},{"t":"a","x":410,"y":0.20},{"t":"a","x":430,"y":0.18},{"t":"a","x":450,"y":0.22},{"t":"a","x":470,"y":0.24},{"t":"a","x":490,"y":0.22},{"t":"a","x":500,"y":0.26},{"t":"a","x":510,"y":0.35},{"t":"a","x":515,"y":0.60},{"t":"a","x":520,"y":1.00},{"t":"a","x":525,"y":0.55},{"t":"a","x":530,"y":0.22},{"t":"a","x":540,"y":0.15},{"t":"a","x":560,"y":0.18},{"t":"a","x":580,"y":0.14},{"t":"a","x":600,"y":0.17},{"t":"a","x":620,"y":0.15},{"t":"a","x":640,"y":0.18},{"t":"a","x":660,"y":0.16},{"t":"a","x":680,"y":0.19},{"t":"a","x":700,"y":0.17},{"t":"a","x":720,"y":0.20},{"t":"a","x":740,"y":0.18},{"t":"a","x":760,"y":0.20},{"t":"a","x":780,"y":0.28},{"t":"a","x":790,"y":0.24},{"t":"a","x":800,"y":0.20},{"t":"a","x":820,"y":0.22},{"t":"a","x":840,"y":0.19},{"t":"a","x":860,"y":0.22},{"t":"a","x":880,"y":0.20},{"t":"a","x":900,"y":0.23},{"t":"a","x":920,"y":0.21},{"t":"a","x":940,"y":0.24},{"t":"a","x":960,"y":0.30},{"t":"a","x":970,"y":0.32},{"t":"a","x":980,"y":0.29},{"t":"a","x":990,"y":0.30},{"t":"a","x":1000,"y":0.26},{"t":"a","x":1020,"y":0.24},{"t":"a","x":1040,"y":0.22},{"t":"a","x":1060,"y":0.24},{"t":"a","x":1080,"y":0.21},{"t":"a","x":1100,"y":0.23},{"t":"a","x":1120,"y":0.21},{"t":"a","x":1140,"y":0.22},{"t":"a","x":1180,"y":0.20},{"t":"a","x":1220,"y":0.23},{"t":"a","x":1260,"y":0.21},{"t":"a","x":1300,"y":0.24},{"t":"a","x":1340,"y":0.22},{"t":"a","x":1380,"y":0.25},{"t":"a","x":1420,"y":0.23},{"t":"a","x":1460,"y":0.26},{"t":"a","x":1500,"y":0.25},{"t":"a","x":1540,"y":0.27},{"t":"a","x":1560,"y":0.30},{"t":"a","x":1570,"y":0.38},{"t":"a","x":1575,"y":0.45},{"t":"a","x":1580,"y":0.35},{"t":"a","x":1590,"y":0.28},{"t":"a","x":1610,"y":0.25},{"t":"a","x":1640,"y":0.27},{"t":"a","x":1680,"y":0.25},{"t":"a","x":1720,"y":0.28},{"t":"a","x":1750,"y":0.26},
{"t":"h","x":150,"y":13.13},{"t":"h","x":170,"y":13.15},{"t":"h","x":190,"y":13.12},{"t":"h","x":210,"y":13.16},{"t":"h","x":230,"y":13.14},{"t":"h","x":250,"y":13.20},{"t":"h","x":260,"y":13.26},{"t":"h","x":270,"y":13.18},{"t":"h","x":290,"y":13.16},{"t":"h","x":310,"y":13.14},{"t":"h","x":330,"y":13.17},{"t":"h","x":350,"y":13.15},{"t":"h","x":370,"y":13.18},{"t":"h","x":390,"y":13.16},{"t":"h","x":410,"y":13.19},{"t":"h","x":430,"y":13.17},{"t":"h","x":450,"y":13.20},{"t":"h","x":470,"y":13.22},{"t":"h","x":490,"y":13.21},{"t":"h","x":500,"y":13.23},{"t":"h","x":510,"y":13.28},{"t":"h","x":515,"y":13.40},{"t":"h","x":520,"y":13.60},{"t":"h","x":525,"y":13.38},{"t":"h","x":530,"y":13.18},{"t":"h","x":540,"y":13.16},{"t":"h","x":560,"y":13.19},{"t":"h","x":580,"y":13.17},{"t":"h","x":600,"y":13.20},{"t":"h","x":620,"y":13.18},{"t":"h","x":640,"y":13.21},{"t":"h","x":660,"y":13.19},{"t":"h","x":680,"y":13.21},{"t":"h","x":700,"y":13.19},{"t":"h","x":720,"y":13.22},{"t":"h","x":740,"y":13.20},{"t":"h","x":760,"y":13.22},{"t":"h","x":780,"y":13.28},{"t":"h","x":790,"y":13.24},{"t":"h","x":800,"y":13.21},{"t":"h","x":820,"y":13.23},{"t":"h","x":840,"y":13.21},{"t":"h","x":860,"y":13.24},{"t":"h","x":880,"y":13.22},{"t":"h","x":900,"y":13.25},{"t":"h","x":920,"y":13.23},{"t":"h","x":940,"y":13.25},{"t":"h","x":960,"y":13.30},{"t":"h","x":970,"y":13.32},{"t":"h","x":980,"y":13.29},{"t":"h","x":990,"y":13.30},{"t":"h","x":1000,"y":13.26},{"t":"h","x":1020,"y":13.25},{"t":"h","x":1040,"y":13.23},{"t":"h","x":1060,"y":13.26},{"t":"h","x":1080,"y":13.24},{"t":"h","x":1100,"y":13.27},{"t":"h","x":1120,"y":13.25},{"t":"h","x":1140,"y":13.27},{"t":"h","x":1180,"y":13.25},{"t":"h","x":1220,"y":13.28},{"t":"h","x":1260,"y":13.27},{"t":"h","x":1300,"y":13.30},{"t":"h","x":1340,"y":13.29},{"t":"h","x":1380,"y":13.32},{"t":"h","x":1420,"y":13.31},{"t":"h","x":1460,"y":13.35},{"t":"h","x":1500,"y":13.38},{"t":"h","x":1520,"y":13.42},{"t":"h","x":1530,"y":13.46},{"t":"h","x":1540,"y":13.55},{"t":"h","x":1550,"y":13.83},{"t":"h","x":1555,"y":14.05},{"t":"h","x":1560,"y":14.33},{"t":"h","x":1565,"y":14.30},{"t":"h","x":1570,"y":14.25},{"t":"h","x":1575,"y":14.40},{"t":"h","x":1580,"y":14.70},{"t":"h","x":1584,"y":15.40},{"t":"h","x":1588,"y":16.32},{"t":"h","x":1592,"y":15.60},{"t":"h","x":1596,"y":14.60},{"t":"h","x":1600,"y":14.00},{"t":"h","x":1605,"y":13.70},{"t":"h","x":1610,"y":13.55},{"t":"h","x":1616,"y":13.40},{"t":"h","x":1630,"y":13.38},{"t":"h","x":1650,"y":13.35},{"t":"h","x":1670,"y":13.40},{"t":"h","x":1690,"y":13.36},{"t":"h","x":1710,"y":13.41},{"t":"h","x":1730,"y":13.37},{"t":"h","x":1750,"y":13.40}
],
"guides": [{"x": 520}, {"x": 1592}],
"spike": [{"part": "upper", "x": 1128, "y": 10.32, "y2": 13.15}, {"part": "lower", "x": 1128, "y": 0, "y2": 10.32}],
"diamonds": [{"x": 189, "y": 16.27}, {"x": 259, "y": 13.87}, {"x": 808, "y": 13.87}, {"x": 990, "y": 13.87}, {"x": 1128, "y": 13.87}],
"arrows": [{"x": 583, "y": 14.88, "x2": 544, "y2": 13.89}, {"x": 1419, "y": 15.32, "x2": 1532, "y2": 15.08}],
"labelsLeft": [
 {"x": 241, "y": 16.28, "text": ": noise"},
 {"x": 1210, "y": 13.84, "text": "(h)"}, {"x": 1344, "y": 13.84, "text": "x0.3"},
 {"x": 1210, "y": 11.13, "text": "(g)"}, {"x": 1210, "y": 9.22, "text": "(f)"},
 {"x": 1210, "y": 7.50, "text": "(e)"}, {"x": 1210, "y": 5.81, "text": "(d)"},
 {"x": 1210, "y": 4.12, "text": "(c)"}, {"x": 1210, "y": 2.68, "text": "(b)"},
 {"x": 1210, "y": 0.73, "text": "(a)"}, {"x": 1372, "y": 0.73, "text": "x0.3"},
 {"x": 1758, "y": 13.46, "text": "After CVD"}, {"x": 1758, "y": 2.21, "text": "Heating"},
 {"x": 1755, "y": 0.80, "text": "Before"}, {"x": 1818, "y": -0.18, "text": "Heating"}
],
"labelsRight": [
 {"x": 1993, "y": 11.13, "text": "20 min"}, {"x": 1993, "y": 9.22, "text": "15 min"},
 {"x": 1993, "y": 7.29, "text": "10 min"}, {"x": 1993, "y": 5.36, "text": "5 min"},
 {"x": 1993, "y": 3.41, "text": "1 min"}
],
"labelsCenter": [{"x": 692, "y": 15.27, "text": "Silicon"}, {"x": 1395, "y": 16.03, "text": "G–band"}]
},
"layer": [
 {"data": {"name": "spectra"},
  "mark": {"type": "line", "color": "black", "strokeWidth": 1.1},
  "encoding": {
   "x": {"field": "x", "type": "quantitative", "scale": {"domain": [150, 1750], "nice": false, "zero": false},
    "axis": {"orient": "bottom", "values": [200,300,400,500,600,700,800,900,1000,1100,1200,1300,1400,1500,1600,1700], "format": "d", "labelExpr": "datum.value % 500 === 0 ? datum.label : ''", "tickSize": -5, "labelFontSize": 22, "labelPadding": 8, "labelOverlap": false, "labelFlush": false, "title": "Raman Shift (cm⁻¹)", "titleFontSize": 30, "titleX": 225, "titleY": 66, "titleBaseline": "alphabetic"}},
   "y": {"field": "y", "type": "quantitative", "scale": {"domain": [0, 17], "nice": false, "zero": false},
    "axis": {"orient": "left", "values": [1,2,3,4,5,6,7,8,9,10,11,12,13,14,15,16], "labels": false, "tickSize": -5, "title": "Intensity (arb.units)", "titleFontSize": 30, "titleX": -28, "titleY": 188, "titleBaseline": "middle"}},
   "detail": {"field": "t"},
   "order": {"field": "x", "type": "quantitative"}
  }},
 {"data": {"name": "guides"},
  "mark": {"type": "rule", "color": "black", "strokeWidth": 1, "strokeDash": [4, 3]},
  "encoding": {
   "x": {"field": "x", "type": "quantitative", "scale": {"domain": [150, 1750], "nice": false, "zero": false},
    "axis": {"orient": "top", "values": [200,300,400,500,600,700,800,900,1000,1100,1200,1300,1400,1500,1600,1700], "labels": false, "tickSize": -5, "title": null}},
   "y": {"datum": 0, "type": "quantitative", "scale": {"domain": [0, 17], "nice": false, "zero": false},
    "axis": {"orient": "right", "values": [1,2,3,4,5,6,7,8,9,10,11,12,13,14,15,16], "labels": false, "tickSize": -5, "title": null}},
   "y2": {"datum": 17}
  }},
 {"data": {"name": "spike"},
  "mark": {"type": "rule", "strokeWidth": 3},
  "encoding": {
   "x": {"field": "x", "type": "quantitative", "scale": {"domain": [150, 1750]}, "axis": null},
   "y": {"field": "y", "type": "quantitative", "scale": {"domain": [0, 17]}, "axis": null},
   "y2": {"field": "y2"},
   "color": {"field": "part", "type": "nominal", "scale": {"domain": ["upper", "lower"], "range": ["#707070", "#111111"]}, "legend": null}
  }},
 {"data": {"name": "diamonds"},
  "mark": {"type": "point", "shape": "M0,-1L0.75,0L0,1L-0.75,0Z", "filled": true, "color": "black", "opacity": 1, "size": 110},
  "encoding": {
   "x": {"field": "x", "type": "quantitative", "scale": {"domain": [150, 1750]}, "axis": null},
   "y": {"field": "y", "type": "quantitative", "scale": {"domain": [0, 17]}, "axis": null}
  }},
 {"data": {"name": "arrows"},
  "mark": {"type": "rule", "color": "black", "strokeWidth": 1},
  "encoding": {
   "x": {"field": "x", "type": "quantitative", "scale": {"domain": [150, 1750]}, "axis": null},
   "y": {"field": "y", "type": "quantitative", "scale": {"domain": [0, 17]}, "axis": null},
   "x2": {"field": "x2"}, "y2": {"field": "y2"}
  }},
 {"data": {"values": [{"x": 544, "y": 13.89}]},
  "mark": {"type": "point", "shape": "M0,-1L-0.4,0.6L0.4,0.6Z", "filled": true, "color": "black", "opacity": 1, "size": 100, "angle": 203},
  "encoding": {
   "x": {"field": "x", "type": "quantitative", "scale": {"domain": [150, 1750]}, "axis": null},
   "y": {"field": "y", "type": "quantitative", "scale": {"domain": [0, 17]}, "axis": null}
  }},
 {"data": {"values": [{"x": 1532, "y": 15.08}]},
  "mark": {"type": "point", "shape": "M0,-1L-0.4,0.6L0.4,0.6Z", "filled": true, "color": "black", "opacity": 1, "size": 100, "angle": 101},
  "encoding": {
   "x": {"field": "x", "type": "quantitative", "scale": {"domain": [150, 1750]}, "axis": null},
   "y": {"field": "y", "type": "quantitative", "scale": {"domain": [0, 17]}, "axis": null}
  }},
 {"data": {"name": "labelsLeft"},
  "mark": {"type": "text", "align": "left", "baseline": "middle", "fontSize": 19, "font": "Liberation Sans", "color": "black"},
  "encoding": {
   "x": {"field": "x", "type": "quantitative", "scale": {"domain": [150, 1750]}, "axis": null},
   "y": {"field": "y", "type": "quantitative", "scale": {"domain": [0, 17]}, "axis": null},
   "text": {"field": "text"}
  }},
 {"data": {"name": "labelsRight"},
  "mark": {"type": "text", "align": "right", "baseline": "middle", "fontSize": 19, "font": "Liberation Sans", "color": "black"},
  "encoding": {
   "x": {"field": "x", "type": "quantitative", "scale": {"domain": [150, 1750]}, "axis": null},
   "y": {"field": "y", "type": "quantitative", "scale": {"domain": [0, 17]}, "axis": null},
   "text": {"field": "text"}
  }},
 {"data": {"name": "labelsCenter"},
  "mark": {"type": "text", "align": "center", "baseline": "middle", "fontSize": 19, "font": "Liberation Sans", "color": "black"},
  "encoding": {
   "x": {"field": "x", "type": "quantitative", "scale": {"domain": [150, 1750]}, "axis": null},
   "y": {"field": "y", "type": "quantitative", "scale": {"domain": [0, 17]}, "axis": null},
   "text": {"field": "text"}
  }}
],
"resolve": {"axis": {"x": "independent", "y": "independent"}}
}
